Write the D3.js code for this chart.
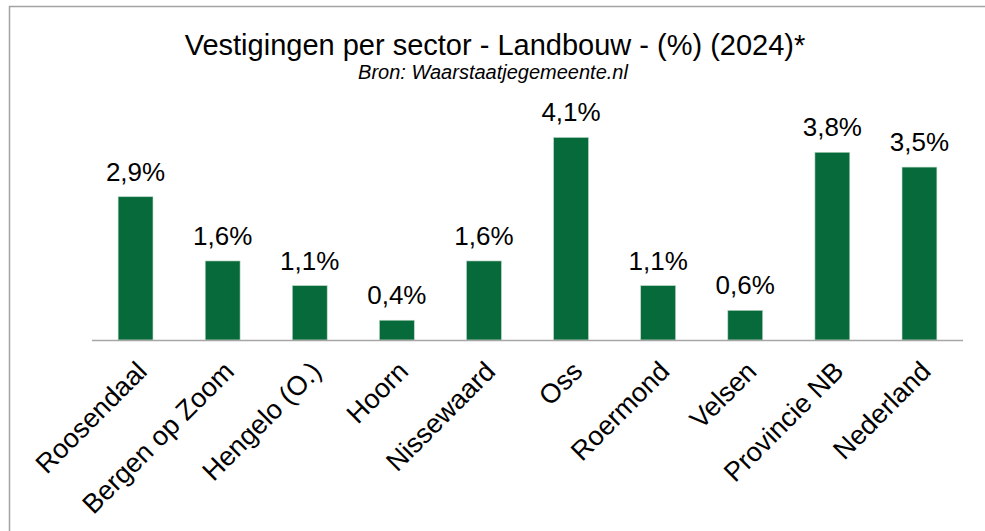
<!DOCTYPE html>
<html>
<head>
<meta charset="utf-8">
<script src="https://cdn.jsdelivr.net/npm/d3@7"></script>
<style>
  html, body { margin: 0; padding: 0; background: #fff; }
  svg { display: block; font-family: "Liberation Sans", Arial, sans-serif; }
</style>
</head>
<body>
<svg id="chart" width="985" height="531"></svg>
<script>
// Share of establishments in agriculture, per municipality (2024)
const categories = ["Roosendaal", "Bergen op Zoom", "Hengelo (O.)", "Hoorn", "Nissewaard",
                    "Oss", "Roermond", "Velsen", "Provincie NB", "Nederland"];
const values = [2.9, 1.6, 1.1, 0.4, 1.6, 4.1, 1.1, 0.6, 3.8, 3.5];
const title = "Vestigingen per sector - Landbouw - (%) (2024)*";
const subtitle = "Bron: Waarstaatjegemeente.nl";

const svg = d3.select("#chart");
const W = 985, H = 531;
const plot = { left: 92, right: 963, top: 93, bottom: 340 };

// outer frame (top and left edges visible)
svg.append("path")
  .attr("d", `M9.5,${H} L9.5,6.5 L${W},6.5`)
  .attr("fill", "none")
  .attr("stroke", "#a3a3a3")
  .attr("stroke-width", 1.5);

const x = d3.scaleBand()
  .domain(categories)
  .range([plot.left, plot.right])
  .paddingInner(0.6)
  .paddingOuter(0.3);

const y = d3.scaleLinear()
  .domain([0, 5])
  .range([plot.bottom, plot.top]);

// titles
svg.append("text")
  .attr("x", 495).attr("y", 55)
  .attr("text-anchor", "middle")
  .attr("font-size", 29)
  .attr("fill", "#000")
  .text(title);

svg.append("text")
  .attr("x", 493).attr("y", 79)
  .attr("text-anchor", "middle")
  .attr("font-size", 20)
  .attr("font-style", "italic")
  .attr("fill", "#000")
  .text(subtitle);

// bars
svg.append("g").selectAll("rect")
  .data(values)
  .join("rect")
  .attr("x", (d, i) => x(categories[i]))
  .attr("width", x.bandwidth())
  .attr("y", d => y(d))
  .attr("height", d => y(0) - y(d))
  .attr("fill", "#076a3a")
  .attr("stroke", "#b9d6c4")
  .attr("stroke-width", 0.6);

// value labels
const fmt = v => d3.format(".1f")(v).replace(".", ",") + "%";
svg.append("g").selectAll("text")
  .data(values)
  .join("text")
  .attr("x", (d, i) => x(categories[i]) + x.bandwidth() / 2)
  .attr("y", d => y(d) - 16)
  .attr("text-anchor", "middle")
  .attr("font-size", 26)
  .attr("fill", "#000")
  .text(fmt);

// category axis
const axis = d3.axisBottom(x).tickSize(0).tickPadding(0);
const gx = svg.append("g")
  .attr("transform", `translate(0,${plot.bottom})`)
  .call(axis);
gx.select(".domain")
  .attr("d", `M${plot.left},0.5H${plot.right}`)
  .attr("stroke", "#a6a6a6")
  .attr("stroke-width", 1.5);
gx.selectAll(".tick text")
  .attr("font-size", 27)
  .attr("font-family", "'Liberation Sans', Arial, sans-serif")
  .attr("fill", "#000")
  .attr("text-anchor", "end")
  .attr("dy", 0)
  .attr("y", 0)
  .attr("transform", "translate(13,33) rotate(-45)");
</script>
</body>
</html>
